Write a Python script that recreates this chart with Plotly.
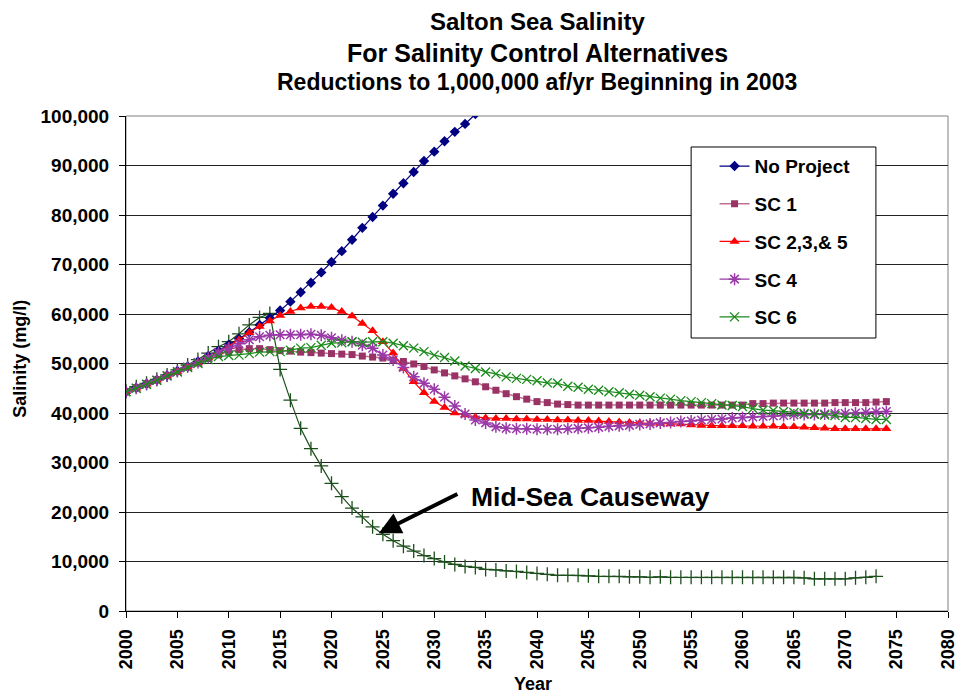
import plotly.graph_objects as go

years_np = list(range(2000, 2036))
no_project = [44300, 45100, 45900, 46700, 47600, 48500, 49400, 50400, 51500, 52600,
              53800, 55000, 56300, 57800, 59200, 60700, 62500, 64400, 66300, 68400,
              70500, 72700, 75000, 77400, 79600, 81900, 84300, 86400, 88700, 90900,
              92800, 94900, 96800, 98400, 100400, 102300]

years = list(range(2000, 2075))
sc1 = [44300, 45100, 45900, 46700, 47600, 48400, 49300, 50100, 51000, 51800,
       52400, 52800, 53000, 53000, 52800, 52600, 52500, 52300, 52200, 52100,
       52000, 51900, 51800, 51500, 51300, 51100, 50700, 50400, 49900, 49400,
       48700, 48100, 47500, 46900, 46300, 45300, 44600, 43900, 43300, 42800,
       42300, 42100, 41800, 41700, 41600, 41600, 41600, 41600, 41600, 41600,
       41600, 41600, 41600, 41600, 41600, 41600, 41600, 41600, 41600, 41600,
       41600, 41900, 41900, 42000, 42000, 42000, 42000, 42000, 42000, 42100,
       42100, 42100, 42100, 42200, 42300]
sc235 = [44300, 45000, 45800, 46600, 47400, 48300, 49200, 50100, 51100, 52300,
         53500, 54800, 56200, 57500, 58600, 59700, 60500, 61200, 61500, 61500,
         61300, 60500, 59600, 58100, 56600, 54400, 52100, 49000, 46300, 44100,
         42300, 41100, 40000, 39600, 39200, 39000, 38900, 38900, 38800, 38800,
         38700, 38700, 38600, 38600, 38500, 38500, 38400, 38300, 38200, 38100,
         38000, 37900, 37900, 37800, 37800, 37600, 37500, 37400, 37400, 37400,
         37400, 37300, 37300, 37300, 37200, 37200, 37100, 37000, 36900, 36800,
         36800, 36800, 36800, 36800, 36800]
sc4 = [44300, 45000, 45800, 46600, 47500, 48400, 49300, 50200, 51200, 52200,
       53100, 54000, 54800, 55400, 55700, 55800, 55800, 55800, 55900, 55700,
       55200, 54700, 54400, 53700, 53100, 51700, 50700, 49200, 47300, 46000,
       44800, 43200, 41400, 39800, 38600, 38000, 37200, 36900, 36800, 36800,
       36700, 36700, 36700, 36800, 36900, 37000, 37100, 37300, 37400, 37500,
       37700, 37800, 38000, 38100, 38300, 38400, 38600, 38700, 38800, 39000,
       39100, 39200, 39300, 39400, 39500, 39600, 39700, 39700, 39800, 39900,
       39900, 40000, 40100, 40200, 40300]
sc6 = [44300, 45000, 45800, 46600, 47500, 48300, 49200, 50000, 50800, 51400,
       51600, 51700, 52000, 52300, 52400, 52400, 52700, 53100, 53200, 53700,
       54100, 54200, 54400, 54300, 54400, 54400, 54100, 53600, 53100, 52400,
       51700, 51200, 50500, 49500, 49000, 48300, 47900, 47300, 47000, 46800,
       46500, 46100, 46000, 45400, 45200, 44800, 44600, 44300, 44100, 43800,
       43600, 43300, 43000, 42800, 42500, 42300, 42100, 41900, 41600, 41500,
       41300, 40900, 40600, 40500, 40300, 40100, 39900, 39800, 39600, 39500,
       39100, 39100, 38900, 38700, 38700]

years_cw = list(range(2000, 2074))
causeway = [44400, 45300, 46000, 46800, 47700, 48700, 49700, 50800, 52100, 53400,
            54400, 56000, 57800, 59300, 60100, 48800, 42600, 36900, 32800, 29300,
            25800, 23100, 20800, 19000, 17000, 15500, 14200, 13100, 12100, 11200,
            10600, 9900, 9400, 9000, 8800, 8400, 8300, 8100, 8000, 7800,
            7600, 7400, 7200, 7200, 7200, 7100, 7000, 7000, 7000, 6900,
            6900, 6800, 6900, 6800, 6800, 6800, 6800, 6800, 6800, 6800,
            6800, 6800, 6800, 6800, 6800, 6800, 6700, 6500, 6500, 6500,
            6500, 6700, 6800, 7000]

x_ticks = list(range(2000, 2081, 5))
y_ticks = list(range(0, 100001, 10000))

FONT = "Arial, Liberation Sans, sans-serif"

fig = go.Figure()

fig.add_trace(go.Scatter(x=years_cw, y=causeway, mode="lines+markers", showlegend=False,
                         line=dict(color="#1d4f1d", width=1.2),
                         marker=dict(symbol="cross-thin-open", size=10,
                                     line=dict(color="#1d4f1d", width=1.3))))
fig.add_trace(go.Scatter(x=years_np, y=no_project, name="No Project", mode="lines+markers",
                         legendgroup="a",
                         line=dict(color="#000080", width=1.2),
                         marker=dict(symbol="diamond", size=8, color="#000080")))
fig.add_trace(go.Scatter(x=years, y=sc1, name="SC 1", mode="lines+markers",
                         legendgroup="b",
                         line=dict(color="#c07090", width=1.5),
                         marker=dict(symbol="square", size=7, color="#993366")))
fig.add_trace(go.Scatter(x=years, y=sc235, name="SC 2,3,& 5", mode="lines+markers",
                         legendgroup="c",
                         line=dict(color="#ff0000", width=1.2),
                         marker=dict(symbol="triangle-up", size=9, color="#ff0000")))
fig.add_trace(go.Scatter(x=years, y=sc4, name="SC 4", mode="lines+markers",
                         legendgroup="d",
                         line=dict(color="#9a3aa8", width=1.4),
                         marker=dict(symbol="asterisk-open", size=10,
                                     line=dict(color="#800080", width=1.5))))
fig.add_trace(go.Scatter(x=years, y=sc6, name="SC 6", mode="lines+markers",
                         legendgroup="e",
                         line=dict(color="#1a8a1a", width=1.2),
                         marker=dict(symbol="x-thin-open", size=9,
                                     line=dict(color="#1a8a1a", width=1.3))))

fig.update_layout(
    width=959, height=686,
    margin=dict(l=118, r=9, t=108, b=83),
    paper_bgcolor="white", plot_bgcolor="white",
    font=dict(family=FONT, color="black"),
    showlegend=True,
    legend=dict(x=0.716, y=0.937, xanchor="left", yanchor="top",
                bgcolor="rgba(0,0,0,0)", borderwidth=0,
                font=dict(size=19, weight="bold", family=FONT),
                tracegroupgap=10),
    xaxis=dict(range=[2000, 2080], tickvals=x_ticks, ticktext=[str(v) for v in x_ticks],
               tickangle=-90, ticks="outside", ticklen=6, tickcolor="black",
               ticklabeloverflow="allow", ticklabelstandoff=4,
               showline=True, linecolor="black", linewidth=1, showgrid=False,
               zeroline=False, tickfont=dict(size=18, weight="bold", family=FONT)),
    yaxis=dict(range=[0, 100000], tickvals=y_ticks, tickformat=",",
               ticks="outside", ticklen=6, tickcolor="black",
               ticklabelstandoff=6,
               showline=True, linecolor="black", linewidth=1,
               showgrid=True, gridcolor="#222222", gridwidth=1,
               zeroline=False, tickfont=dict(size=19, weight="bold", family=FONT)),
    shapes=[dict(type="rect", xref="paper", yref="paper", x0=0, x1=1, y0=0, y1=1,
                 line=dict(color="#808080", width=1), layer="below"),
            dict(type="rect", xref="paper", yref="paper", x0=0.6875, x1=0.9123,
                 y0=0.5515, y1=0.9374, fillcolor="white",
                 line=dict(color="black", width=1), layer="above")],
    annotations=[
        dict(text="Salton Sea Salinity", xref="paper", yref="paper", x=0.5, y=1.1905,
             xanchor="center", yanchor="middle", borderpad=0,
             showarrow=False, font=dict(size=24, weight="bold")),
        dict(text="For Salinity Control Alternatives", xref="paper", yref="paper",
             x=0.5, y=1.128, xanchor="center", yanchor="middle", borderpad=0,
             showarrow=False, font=dict(size=25, weight="bold")),
        dict(text="Reductions to 1,000,000 af/yr Beginning in 2003", xref="paper", yref="paper",
             x=0.5, y=1.069, xanchor="center", yanchor="middle", borderpad=0,
             showarrow=False, font=dict(size=23, weight="bold")),
        dict(text="Salinity (mg/l)", xref="paper", yref="paper", x=-0.13, y=0.51,
             xanchor="center", yanchor="middle",
             textangle=-90, showarrow=False, font=dict(size=18, weight="bold")),
        dict(text="Year", xref="paper", yref="paper", x=0.495, y=-0.147,
             xanchor="center", yanchor="middle",
             showarrow=False, font=dict(size=18, weight="bold")),
        dict(text="", x=2024.6, y=15700, ax=2032.4, ay=23800, axref="x", ayref="y",
             showarrow=True, arrowhead=2, arrowsize=1.1, arrowwidth=4, arrowcolor="black",
             standoff=0),
        dict(text="Mid-Sea Causeway", x=2033.4, y=23000, xanchor="left", yanchor="middle",
             showarrow=False, font=dict(size=26.5, weight="bold")),
    ],
)

fig.write_html("out.html")
